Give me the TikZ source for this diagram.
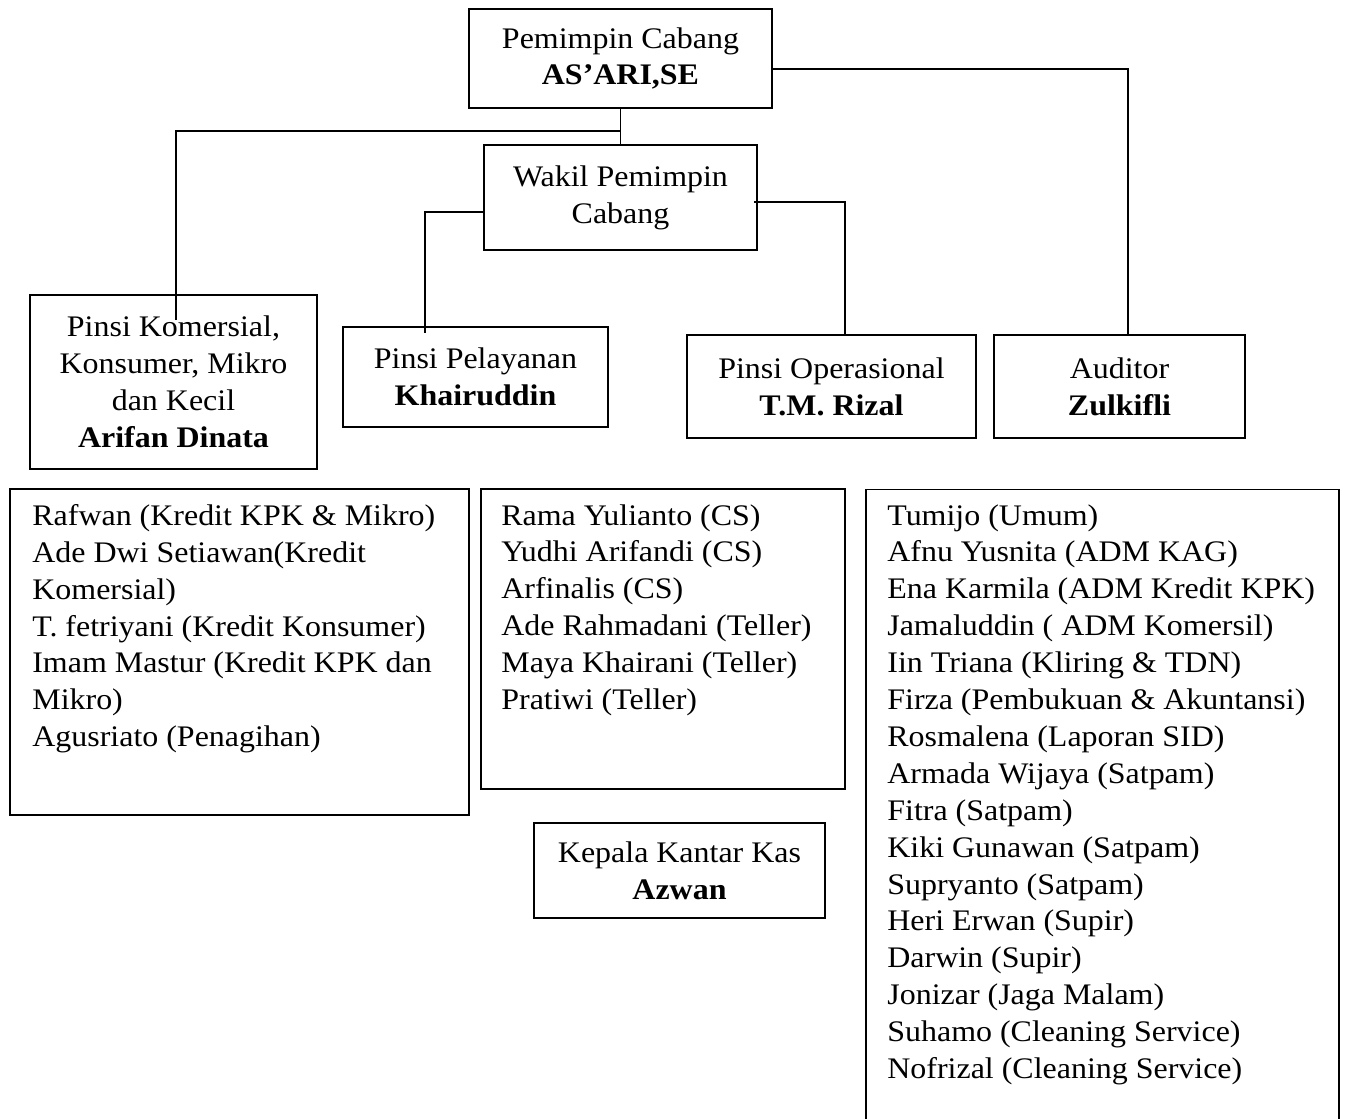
\documentclass[tikz,border=0pt]{standalone}
\usepackage{fontspec}
\setmainfont{Liberation Serif}[FakeStretch=1.07]
\begin{document}
\begin{tikzpicture}[x=0.02cm,y=-0.02cm,
  box/.style={draw,line width=0.9pt,inner sep=0pt,align=center,font=\fontsize{17}{21}\selectfont},
  lst/.style={anchor=north west,inner sep=0pt,align=left,font=\fontsize{17}{21}\selectfont},
  conn/.style={line width=0.9pt}]
\useasboundingbox (0,0) rectangle (1350,1119);
\node[box,minimum width=6.06cm,minimum height=1.98cm] (pc) at (620.5,58.5) {Pemimpin Cabang\\\bfseries AS’ARI,SE};
\node[box,minimum width=5.46cm,minimum height=2.10cm] (wk) at (620.5,197.5) {Wakil Pemimpin\\Cabang};
\node[box,minimum width=5.74cm,minimum height=3.48cm] (kom) at (173.5,382) {Pinsi Komersial,\\Konsumer, Mikro\\dan Kecil\\\textbf{Arifan Dinata}};
\node[box,minimum width=5.30cm,minimum height=2.00cm] (pel) at (475.5,377) {Pinsi Pelayanan\\\textbf{Khairuddin}};
\node[box,minimum width=5.78cm,minimum height=2.06cm] (ops) at (831.5,386.5) {Pinsi Operasional\\\textbf{T.M. Rizal}};
\node[box,minimum width=5.02cm,minimum height=2.06cm] (aud) at (1119.5,386.5) {Auditor\\\textbf{Zulkifli}};
\node[box,minimum width=9.18cm,minimum height=6.52cm] (l1) at (239.5,652) {};
\node[box,minimum width=7.28cm,minimum height=6.00cm] (l2) at (663,639) {};
\node[box,minimum width=9.46cm,minimum height=12.90cm] (l3) at (1102.5,812) {};
\node[box,minimum width=5.82cm,minimum height=1.90cm] (kk) at (679.5,870.5) {Kepala Kantar Kas\\\textbf{Azwan}};
\node[lst] (t1) at (32,504) {Rafwan (Kredit KPK \& Mikro)\\Ade Dwi Setiawan(Kredit\\Komersial)\\T. fetriyani (Kredit Konsumer)\\Imam Mastur (Kredit KPK dan\\Mikro)\\Agusriato (Penagihan)};
\node[lst] (t2) at (501,504) {Rama Yulianto (CS)\\Yudhi Arifandi (CS)\\Arfinalis (CS)\\Ade Rahmadani (Teller)\\Maya Khairani (Teller)\\Pratiwi (Teller)};
\node[lst] (t3) at (887,504) {Tumijo (Umum)\\Afnu Yusnita (ADM KAG)\\Ena Karmila (ADM Kredit KPK)\\Jamaluddin ( ADM Komersil)\\Iin Triana (Kliring \& TDN)\\Firza (Pembukuan \& Akuntansi)\\Rosmalena (Laporan SID)\\Armada Wijaya (Satpam)\\Fitra (Satpam)\\Kiki Gunawan (Satpam)\\Supryanto (Satpam)\\Heri Erwan (Supir)\\Darwin (Supir)\\Jonizar (Jaga Malam)\\Suhamo (Cleaning Service)\\Nofrizal (Cleaning Service)};
\coordinate (j1) at (620.5,131);
\coordinate (kq) at (176,320);
\coordinate (wl) at (484,212);
\coordinate (pq) at (425,333);
\coordinate (wr) at (754,202);
\coordinate (oq) at (845,335);
\coordinate (pr) at (772,69);
\coordinate (aq) at (1128,335);
\draw[conn] (pc.south) -- (wk.north);
\draw[conn] (j1) -| (kq);
\draw[conn] (wl) -| (pq);
\draw[conn] (wr) -| (oq);
\draw[conn] (pr) -| (aq);
\end{tikzpicture}
\end{document}
